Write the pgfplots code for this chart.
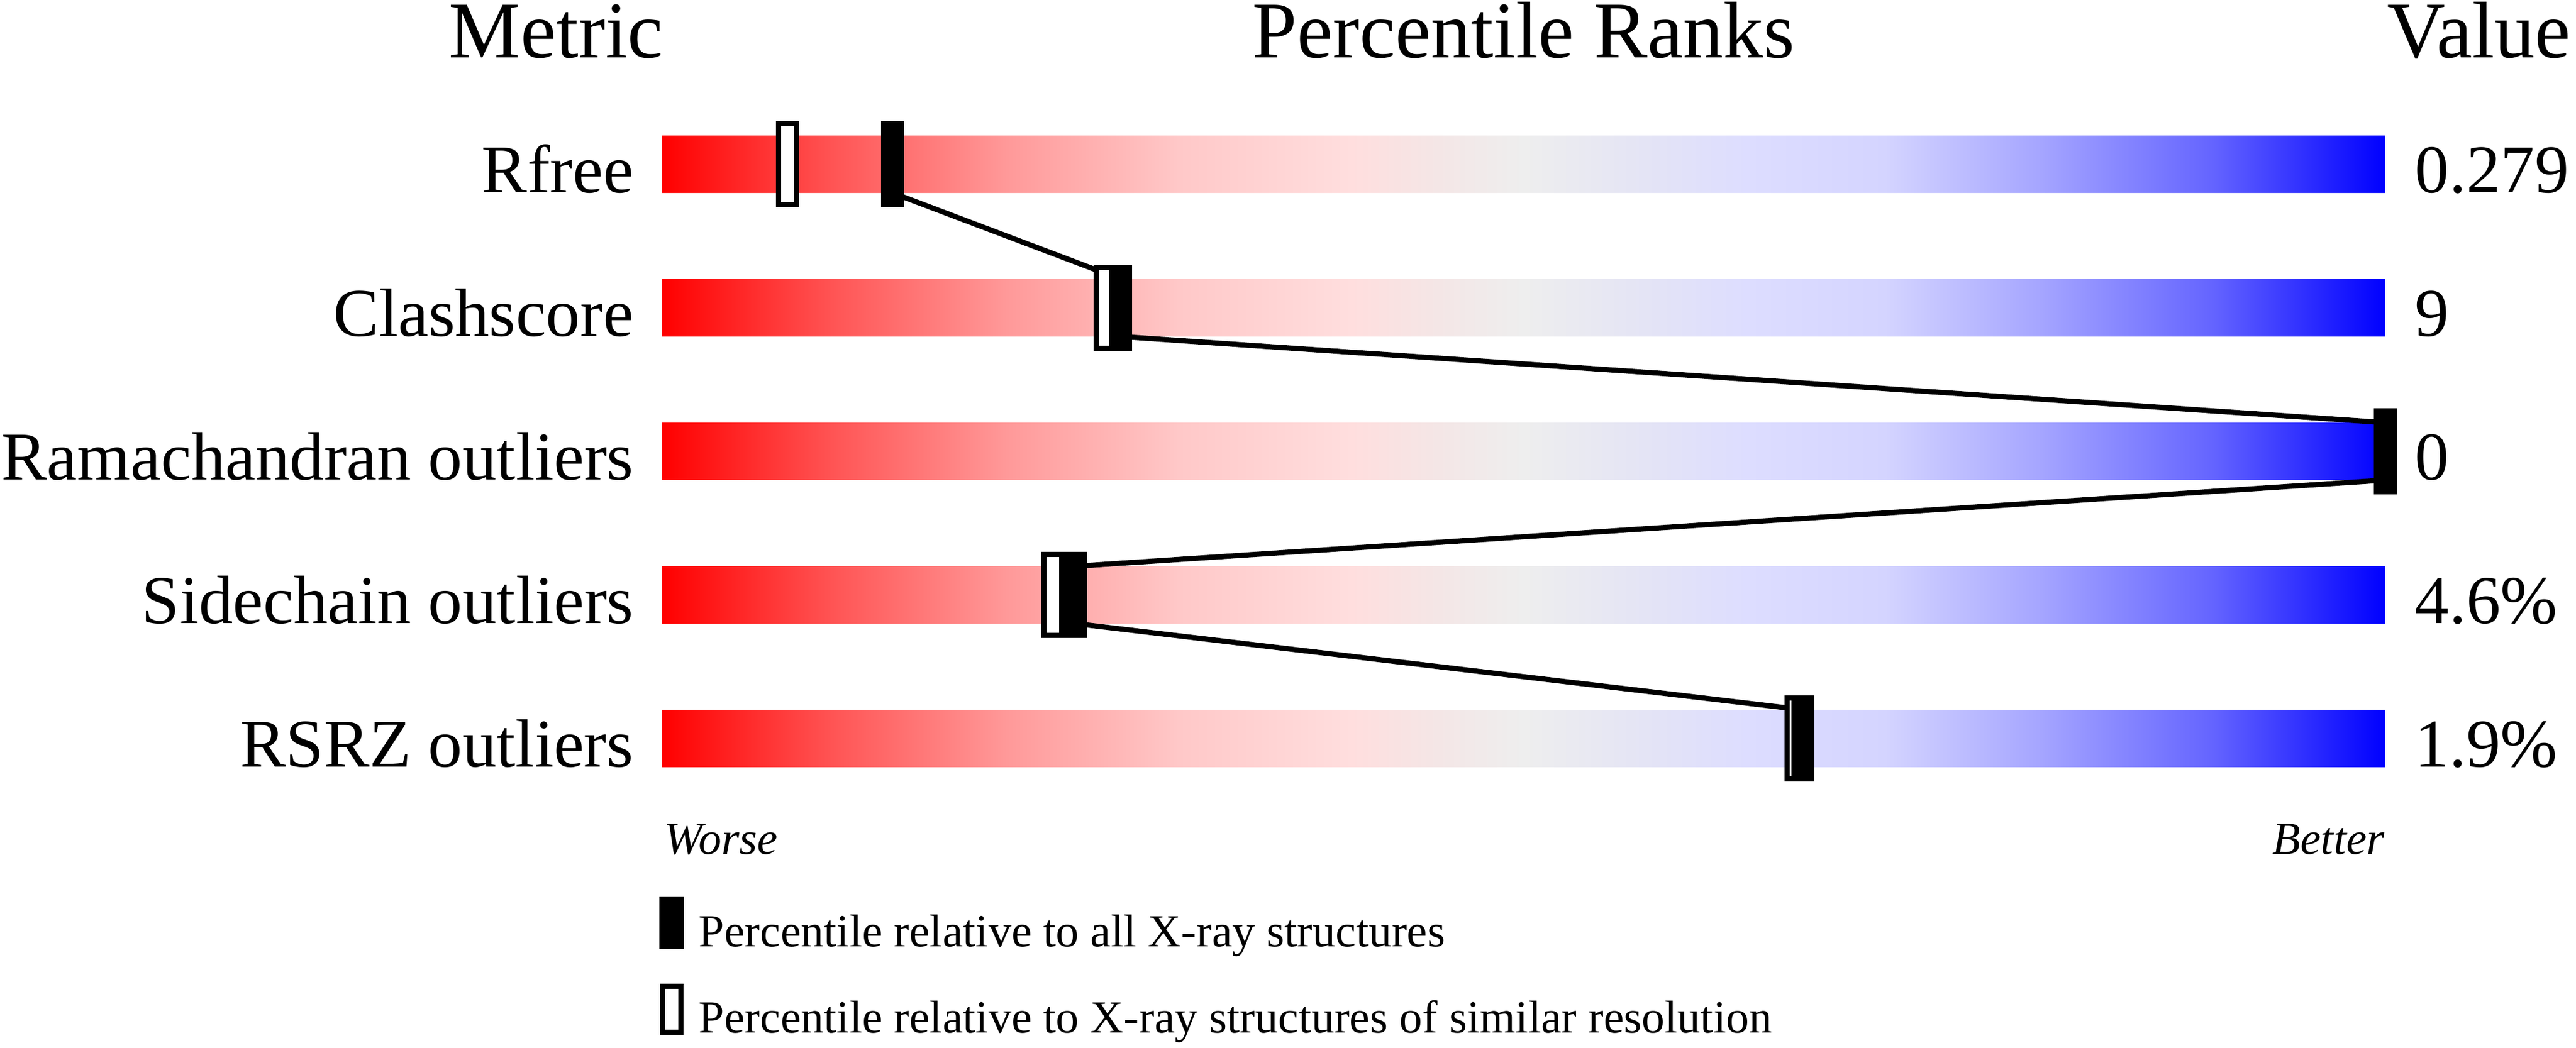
\documentclass[border=0pt]{standalone}
\usepackage{pgfplots}
\usepackage{pgfplotstable}
\pgfplotsset{compat=1.18}
\usepackage{fontspec}
\setmainfont{Liberation Serif}

\definecolor{g0}{RGB}{255,0,0}
\definecolor{g10}{RGB}{255,85,85}
\definecolor{g20}{RGB}{255,153,153}
\definecolor{g30}{RGB}{255,200,200}
\definecolor{g40}{RGB}{255,222,222}
\definecolor{g45}{RGB}{244,230,230}
\definecolor{g50}{RGB}{238,238,238}
\definecolor{g57}{RGB}{228,228,245}
\definecolor{g63}{RGB}{221,221,255}
\definecolor{g71}{RGB}{212,212,255}
\definecolor{g80}{RGB}{165,165,255}
\definecolor{g90}{RGB}{100,100,255}
\definecolor{g100}{RGB}{0,0,255}

\pgfdeclarehorizontalshading{pdb}{100bp}{color(0bp)=(g0); color(25bp)=(g0); color(30bp)=(g10); color(35bp)=(g20); color(40bp)=(g30); color(45bp)=(g40); color(47.5bp)=(g45); color(50bp)=(g50); color(53.5bp)=(g57); color(56.5bp)=(g63); color(60.5bp)=(g71); color(65bp)=(g80); color(70bp)=(g90); color(75bp)=(g100); color(100bp)=(g100)}

\pgfdeclareplotmark{pdbfill}{\pgfpathrectanglecorners{\pgfqpoint{-4pt}{-15pt}}{\pgfqpoint{4pt}{15pt}}\pgfusepathqfill}
\pgfdeclareplotmark{pdbopen}{\pgfsetlinewidth{1.8pt}\pgfpathrectanglecorners{\pgfqpoint{-3.1pt}{-14.1pt}}{\pgfqpoint{3.1pt}{14.1pt}}\pgfusepathqfillstroke}

% percentile relative to X-ray structures of similar resolution
\pgfplotstableread{
pct row
7.28 1
25.7 2
100 3
22.66 4
65.8 5
}\simres
% percentile relative to all X-ray structures
\pgfplotstableread{
pct row
13.38 1
26.6 2
100 3
24.0 4
66.2 5
}\allxray

\tikzset{
  ttl/.style={inner sep=0pt, font=\fontsize{28}{32}\selectfont},
  lbl/.style={inner sep=0pt, font=\fontsize{23.8}{26}\selectfont},
  wb/.style={inner sep=0pt, font=\fontsize{16}{18}\selectfont\itshape},
}

\begin{document}
\begin{tikzpicture}
\begin{axis}[
  x=6pt, y=50pt, y dir=reverse,
  xmin=-38.43, xmax=111.07, ymin=-0.144, ymax=7.152,
  hide axis, clip=false,
  legend style={at={(axis cs:-0.167,6.104)}, anchor=north west, draw=none, fill=none,
    inner sep=0pt, outer sep=0pt, row sep=11.5pt, column sep=5.2pt,
    font=\fontsize{16}{18}\selectfont, cells={anchor=base west}, nodes={inner sep=0pt}},
]
\addplot[xbar, bar width=20pt, draw=none, shading=pdb, forget plot]
  coordinates {(100,1) (100,2) (100,3) (100,4) (100,5)};
\addplot[black, line width=1.8pt, line join=round, forget plot]
  coordinates {(13.38,1.2) (26.6,1.8) (26.6,2.2) (100,2.8) (100,3.2) (24.0,3.8) (24.0,4.2) (66.2,4.8)};
\addplot[only marks, mark=pdbopen, black, mark options={fill=white}, forget plot]
  table[x=pct,y=row]{\simres};
\addplot[only marks, mark=pdbfill, black, forget plot]
  table[x=pct,y=row]{\allxray};

\addlegendimage{legend image code/.code={\fill[black] (0pt,-0.8pt) rectangle (8.2pt,17pt);}}
\addlegendentry{Percentile relative to all X-ray structures}
\addlegendimage{legend image code/.code={\draw[black, line width=1.8pt, fill=white] (0.9pt,0.1pt) rectangle (7.3pt,16.1pt);}}
\addlegendentry{Percentile relative to X-ray structures of similar resolution}

\node[ttl, anchor=base west] at (axis cs:-12.4,0.256) {Metric};
\node[ttl, anchor=base] at (axis cs:50,0.256) {Percentile Ranks};
\node[ttl, anchor=base west] at (axis cs:100.1,0.256) {Value};

\node[lbl, anchor=base east] at (axis cs:-1.633,1.196) {Rfree};
\node[lbl, anchor=base east] at (axis cs:-1.633,2.196) {Clashscore};
\node[lbl, anchor=base east] at (axis cs:-1.633,3.196) {Ramachandran outliers};
\node[lbl, anchor=base east] at (axis cs:-1.633,4.196) {Sidechain outliers};
\node[lbl, anchor=base east] at (axis cs:-1.633,5.196) {RSRZ outliers};

\node[lbl, anchor=base west] at (axis cs:101.7,1.196) {0.279};
\node[lbl, anchor=base west] at (axis cs:101.7,2.196) {9};
\node[lbl, anchor=base west] at (axis cs:101.7,3.196) {0};
\node[lbl, anchor=base west] at (axis cs:101.7,4.196) {4.6\%};
\node[lbl, anchor=base west] at (axis cs:101.7,5.196) {1.9\%};

\node[wb, anchor=base west] at (axis cs:0.1,5.804) {Worse};
\node[wb, anchor=base east] at (axis cs:100,5.804) {Better};
\end{axis}
\pgfresetboundingbox
\path[use as bounding box] (current axis.south west) rectangle (current axis.north east);
\end{tikzpicture}
\end{document}
